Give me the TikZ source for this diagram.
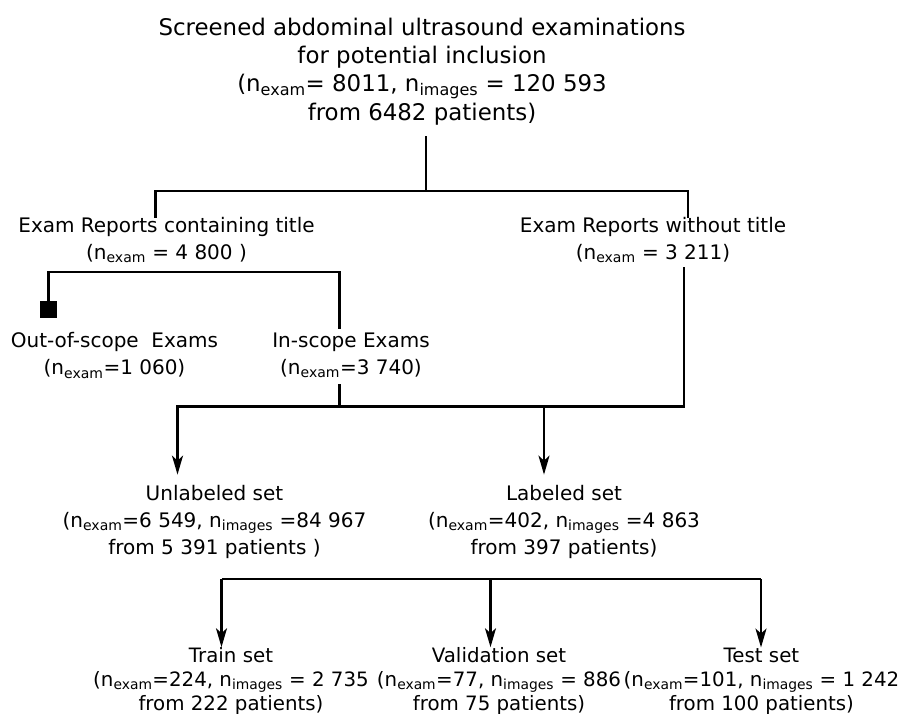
\documentclass[tikz,border=0pt]{standalone}
\usepackage{fontspec}
\setmainfont{DejaVu Sans}
\usetikzlibrary{arrows.meta}
\newcommand{\ns}[1]{n\textsubscript{#1}}
\begin{document}
\begin{tikzpicture}[x=1pt,y=-1pt,
  lbl/.style={align=center, inner sep=0pt, font=\fontsize{20}{27}\selectfont},
  toplbl/.style={lbl, font=\fontsize{22.9}{28.3}\selectfont},
  botlbl/.style={lbl, font=\fontsize{19.8}{24}\selectfont},
  conn/.style={line width=2.2pt, line cap=rect},
  thickconn/.style={line width=2.8pt},
  arr/.style={line width=2.2pt, -{Stealth[length=19pt,width=11pt,inset=5pt]}},
  sqbox/.style={fill=black, minimum size=17pt, inner sep=0pt},
]
\clip (0,0) rectangle (900,714);
% nodes
\node[toplbl] (top) at (422,71.5) {Screened abdominal ultrasound examinations\\for potential inclusion\\(\ns{exam}= 8011, \ns{images} = 120 593\\from 6482 patients)};
\node[lbl] (rwt) at (166.5,240) {Exam Reports containing title\\(\ns{exam} = 4 800 )};
\node[lbl] (rwo) at (653,240) {Exam Reports without title\\(\ns{exam} = 3 211)};
\node[lbl] (oos) at (114.5,355.5) {Out-of-scope\ \ Exams\\(\ns{exam}=1 060)};
\node[lbl] (ins) at (351,355.5) {In-scope Exams\\(\ns{exam}=3 740)};
\node[sqbox] (sq) at (48.5,309.5) {};
\node[lbl] (unl) at (214.5,521.5) {Unlabeled set\\(\ns{exam}=6 549, \ns{images} =84 967\\from 5 391 patients )};
\node[lbl] (lab) at (564,521.5) {Labeled set\\(\ns{exam}=402, \ns{images} =4 863\\from 397 patients)};
\node[botlbl] (train) at (231,681) {Train set\\(\ns{exam}=224, \ns{images} = 2 735\\from 222 patients)};
\node[botlbl] (val) at (499,681) {Validation set\\(\ns{exam}=77, \ns{images} = 886\\from 75 patients)};
\node[botlbl] (test) at (761.5,681) {Test set\\(\ns{exam}=101, \ns{images} = 1 242\\from 100 patients)};
% junction coordinates
\coordinate (j0) at (426,191);
\coordinate (jL) at (155.5,191);
\coordinate (jR) at (688,191);
\coordinate (kL) at (48.5,272);
\coordinate (kR) at (339.5,272);
\coordinate (m0) at (339.5,406.5);
\coordinate (mL) at (177.5,406.5);
\coordinate (mM) at (544,406.5);
\coordinate (mR) at (684,406.5);
\coordinate (bL) at (221.5,579);
\coordinate (bM) at (490.5,579);
\coordinate (bR) at (761,579);
% connectors
\draw[conn, shorten <=12pt] (top.south -| j0) -- (j0);
\draw[conn] (jL |- rwt.north) -- (jL) -- (jR) -- (jR |- rwo.north);
\draw[conn] (sq.north) -- (kL) -- (kR) -- ([yshift=5pt]kR |- ins.north);
\draw[conn, shorten <=7pt] (ins.south -| m0) -- (m0);
\draw[conn, shorten <=5pt] (rwo.south -| mR) -- (mR) -- (mL);
\draw[arr, shorten >=10pt] (mL) -- (mL |- unl.north);
\draw[arr, shorten >=10pt] (mM) -- (mM |- lab.north);
\draw[thickconn] (bL) -- (bR);
\draw[arr] (bL) -- (bL |- train.north);
\draw[arr] (bM) -- (bM |- val.north);
\draw[arr] (bR) -- (bR |- test.north);
\end{tikzpicture}
\end{document}
